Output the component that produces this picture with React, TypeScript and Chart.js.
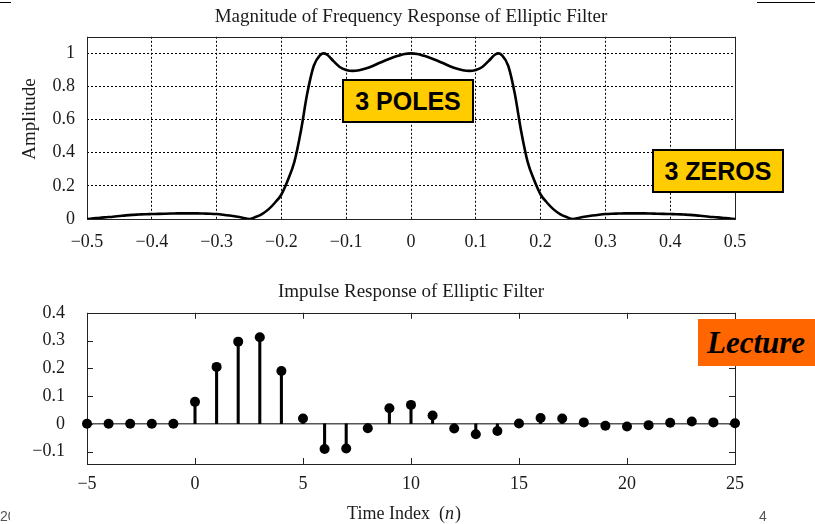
import React, { useEffect, useRef } from 'react';
import { Chart, registerables } from 'chart.js';

Chart.register(...registerables);

// ---------- data ----------
const freqAxis = [
  -0.50, -0.49, -0.48, -0.47, -0.46, -0.45, -0.44, -0.43, -0.42, -0.41,
  -0.40, -0.39, -0.38, -0.37, -0.36, -0.35, -0.34, -0.33, -0.32, -0.31,
  -0.30, -0.29, -0.28, -0.27, -0.26, -0.25, -0.24, -0.23, -0.22, -0.21,
  -0.20, -0.19, -0.18, -0.17, -0.16, -0.15, -0.14, -0.135, -0.13, -0.12, -0.11,
  -0.10, -0.09, -0.08, -0.07, -0.06, -0.05, -0.04, -0.03, -0.02, -0.01,
  0.00,
  0.01, 0.02, 0.03, 0.04, 0.05, 0.06, 0.07, 0.08, 0.09, 0.10,
  0.11, 0.12, 0.13, 0.135, 0.14, 0.15, 0.16, 0.17, 0.18, 0.19, 0.20,
  0.21, 0.22, 0.23, 0.24, 0.25, 0.26, 0.27, 0.28, 0.29, 0.30,
  0.31, 0.32, 0.33, 0.34, 0.35, 0.36, 0.37, 0.38, 0.39, 0.40,
  0.41, 0.42, 0.43, 0.44, 0.45, 0.46, 0.47, 0.48, 0.49, 0.50,
];

const magnitude = [
  0.000, 0.004, 0.008, 0.011, 0.014, 0.018, 0.022, 0.025, 0.027, 0.029,
  0.030, 0.031, 0.032, 0.033, 0.034, 0.034, 0.034, 0.034, 0.033, 0.032,
  0.030, 0.026, 0.021, 0.015, 0.008, 0.000, 0.012, 0.030, 0.058, 0.098,
  0.148, 0.235, 0.345, 0.530, 0.760, 0.925, 0.990, 1.000, 0.993, 0.955, 0.918,
  0.900, 0.894, 0.898, 0.908, 0.922, 0.940, 0.957, 0.972, 0.985, 0.996,
  1.000,
  0.996, 0.985, 0.972, 0.957, 0.940, 0.922, 0.908, 0.898, 0.894, 0.900,
  0.918, 0.955, 0.993, 1.000, 0.990, 0.925, 0.760, 0.530, 0.345, 0.235, 0.148,
  0.098, 0.058, 0.030, 0.012, 0.000, 0.008, 0.015, 0.021, 0.026, 0.030,
  0.032, 0.033, 0.034, 0.034, 0.034, 0.034, 0.033, 0.032, 0.031, 0.030,
  0.029, 0.027, 0.025, 0.022, 0.018, 0.014, 0.011, 0.008, 0.004, 0.000,
];

const timeIndex = [
  -5, -4, -3, -2, -1, 0, 1, 2, 3, 4, 5, 6, 7, 8, 9, 10,
  11, 12, 13, 14, 15, 16, 17, 18, 19, 20, 21, 22, 23, 24, 25,
];

const impulse = [
  0, 0, 0, 0, 0, 0.079, 0.205, 0.296, 0.312, 0.19, 0.019, -0.091, -0.089, -0.016, 0.056, 0.068,
  0.030, -0.017, -0.038, -0.026, 0.001, 0.021, 0.019, 0.005, -0.007, -0.010, -0.005, 0.004, 0.008, 0.005, 0.002,
];

const topTitle = 'Magnitude of Frequency Response of Elliptic Filter';
const topYTitle = 'Amplitude';
const bottomTitle = 'Impulse Response of Elliptic Filter';
const bottomXTitleMain = 'Time Index  (';
const bottomXTitleVar = 'n';
const bottomXTitleEnd = ')';

// ---------- helpers ----------
const SERIF = '"Liberation Serif", "Times New Roman", serif';
const SANS = '"Liberation Sans", Arial, sans-serif';
const INK = '#1a1a1a';

function fmt(v: number, digits: number): string {
  if (Math.abs(v) < 1e-9) return '0';
  if (Math.abs(v - Math.round(v)) < 1e-9) {
    const r = Math.round(v);
    return r < 0 ? '\u2212' + Math.abs(r) : String(r);
  }
  const s = Math.abs(v).toFixed(digits);
  return v < 0 ? '\u2212' + s : s;
}

const framePlugin = {
  id: 'frame',
  beforeDatasetsDraw(chart: any) {
    const { ctx, chartArea: a } = chart;
    ctx.save();
    ctx.strokeStyle = '#222';
    ctx.lineWidth = 1;
    ctx.setLineDash([]);
    ctx.strokeRect(Math.round(a.left) + 0.5, Math.round(a.top) + 0.5,
      Math.round(a.right - a.left), Math.round(a.bottom - a.top));
    ctx.restore();
  },
};

const innerTicksPlugin = {
  id: 'innerTicks',
  beforeDatasetsDraw(chart: any) {
    const { ctx, chartArea: a, scales } = chart;
    const len = 6;
    ctx.save();
    ctx.strokeStyle = '#222';
    ctx.lineWidth = 1;
    ctx.beginPath();
    scales.x.ticks.forEach((t: any) => {
      const px = Math.round(scales.x.getPixelForValue(t.value)) + 0.5;
      ctx.moveTo(px, a.top); ctx.lineTo(px, a.top + len);
      ctx.moveTo(px, a.bottom); ctx.lineTo(px, a.bottom - len);
    });
    scales.y.ticks.forEach((t: any) => {
      const py = Math.round(scales.y.getPixelForValue(t.value)) + 0.5;
      ctx.moveTo(a.left, py); ctx.lineTo(a.left + len, py);
      ctx.moveTo(a.right, py); ctx.lineTo(a.right - len, py);
    });
    ctx.stroke();
    ctx.restore();
  },
};

const topYTitlePlugin = {
  id: 'topYTitle',
  afterDraw(chart: any) {
    const { ctx } = chart;
    ctx.save();
    ctx.translate(30, 119);
    ctx.rotate(-Math.PI / 2);
    ctx.font = `19px ${SERIF}`;
    ctx.fillStyle = INK;
    ctx.textAlign = 'center';
    ctx.textBaseline = 'middle';
    ctx.fillText(topYTitle, 0, 0);
    ctx.restore();
  },
};

const bottomXTitlePlugin = {
  id: 'bottomXTitle',
  afterDraw(chart: any) {
    const { ctx } = chart;
    ctx.save();
    const normal = `18px ${SERIF}`;
    const ital = `italic 18px ${SERIF}`;
    ctx.font = normal;
    const w1 = ctx.measureText(bottomXTitleMain).width;
    const w3 = ctx.measureText(bottomXTitleEnd).width;
    ctx.font = ital;
    const w2 = ctx.measureText(bottomXTitleVar).width + 1;
    const total = w1 + w2 + w3;
    const cx = 404;
    const y = 254;
    let x = cx - total / 2;
    ctx.fillStyle = INK;
    ctx.textBaseline = 'middle';
    ctx.textAlign = 'left';
    ctx.font = normal;
    ctx.fillText(bottomXTitleMain, x, y);
    x += w1;
    ctx.font = ital;
    ctx.fillText(bottomXTitleVar, x, y);
    x += w2;
    ctx.font = normal;
    ctx.fillText(bottomXTitleEnd, x, y);
    ctx.restore();
  },
};

const W = 815;
const TOP_H = 255;
const BOT_TOP = 260;
const BOT_H = 264;

function TopChart() {
  const ref = useRef<HTMLCanvasElement | null>(null);
  useEffect(() => {
    if (!ref.current) return;
    const chart = new Chart(ref.current, {
      type: 'line',
      data: {
        datasets: [
          {
            data: freqAxis.map((f, i) => ({ x: f, y: magnitude[i] })),
            borderColor: '#000',
            borderWidth: 2.6,
            pointRadius: 0,
            cubicInterpolationMode: 'monotone',
            fill: false,
          },
        ],
      },
      options: {
        responsive: false,
        animation: false,
        devicePixelRatio: 1,
        layout: { padding: { left: 0, right: W - 735, top: 0, bottom: 0 } },
        plugins: {
          legend: { display: false },
          tooltip: { enabled: false },
          title: {
            display: true,
            fullSize: false,
            text: topTitle,
            color: INK,
            font: { family: SERIF, size: 19, weight: 'normal', lineHeight: 1.2 },
            padding: { top: 6, bottom: 8 },
          },
        },
        scales: {
          x: {
            type: 'linear',
            min: -0.5,
            max: 0.5,
            offset: false,
            afterFit: (s: any) => { s.height = TOP_H - 219; },
            ticks: {
              stepSize: 0.1,
              color: INK,
              font: { family: SERIF, size: 18 },
              padding: 12,
              maxRotation: 0,
              callback: (v: any) => fmt(Number(v), 1),
            },
            grid: { color: '#000', lineWidth: 1, drawTicks: false },
            border: { display: false, dash: [2, 2] },
          },
          y: {
            min: 0,
            max: 1.1,
            afterFit: (s: any) => { s.width = 87; },
            ticks: {
              stepSize: 0.2,
              includeBounds: false,
              color: INK,
              font: { family: SERIF, size: 18 },
              padding: 12,
              callback: (v: any) => fmt(Number(v), 1),
            },
            grid: { color: '#000', lineWidth: 1, drawTicks: false },
            border: { display: false, dash: [2, 2] },
          },
        },
      } as any,
      plugins: [framePlugin, topYTitlePlugin],
    });
    return () => chart.destroy();
  }, []);
  return (
    <canvas
      ref={ref}
      width={W}
      height={TOP_H}
      style={{ position: 'absolute', left: 0, top: 0, width: W, height: TOP_H }}
    />
  );
}

function BottomChart() {
  const ref = useRef<HTMLCanvasElement | null>(null);
  useEffect(() => {
    if (!ref.current) return;
    const pts = timeIndex.map((n, i) => ({ x: n, y: impulse[i] }));
    const chart = new Chart(ref.current, {
      type: 'bar',
      data: {
        datasets: [
          {
            type: 'scatter',
            data: pts,
            pointRadius: 5,
            pointBackgroundColor: '#000',
            pointBorderWidth: 0,
            showLine: false,
            clip: false,
            order: 0,
          },
          {
            type: 'bar',
            data: pts,
            backgroundColor: '#000',
            barThickness: 2.4,
            order: 1,
          },
          {
            type: 'line',
            data: [{ x: timeIndex[0], y: 0 }, { x: timeIndex[timeIndex.length - 1], y: 0 }],
            borderColor: '#555',
            borderWidth: 1.5,
            pointRadius: 0,
            order: 2,
          },
        ],
      },
      options: {
        responsive: false,
        animation: false,
        devicePixelRatio: 1,
        layout: { padding: { left: 0, right: W - 735, top: 0, bottom: 0 } },
        plugins: {
          legend: { display: false },
          tooltip: { enabled: false },
          title: {
            display: true,
            fullSize: false,
            text: bottomTitle,
            color: INK,
            font: { family: SERIF, size: 19, weight: 'normal', lineHeight: 1.2 },
            padding: { top: 21, bottom: 9 },
          },
        },
        scales: {
          x: {
            type: 'linear',
            min: -5,
            max: 25,
            offset: false,
            afterFit: (s: any) => { s.height = 60; },
            ticks: {
              stepSize: 5,
              color: INK,
              font: { family: SERIF, size: 18 },
              padding: 1,
              maxRotation: 0,
              callback: (v: any) => fmt(Number(v), 0),
            },
            grid: { display: false, offset: false },
            border: { display: false },
          },
          y: {
            min: -0.145,
            max: 0.4,
            afterFit: (s: any) => { s.width = 87; },
            ticks: {
              stepSize: 0.1,
              includeBounds: false,
              color: INK,
              font: { family: SERIF, size: 18 },
              padding: 14,
              callback: (v: any) => fmt(Number(v), 1),
            },
            grid: { display: false },
            border: { display: false },
          },
        },
      } as any,
      plugins: [framePlugin, innerTicksPlugin, bottomXTitlePlugin],
    });
    return () => chart.destroy();
  }, []);
  return (
    <canvas
      ref={ref}
      width={W}
      height={BOT_H}
      style={{ position: 'absolute', left: 0, top: BOT_TOP, width: W, height: BOT_H }}
    />
  );
}

const boxBase: React.CSSProperties = {
  position: 'absolute',
  boxSizing: 'border-box',
  display: 'flex',
  alignItems: 'center',
  justifyContent: 'center',
  color: '#000',
  whiteSpace: 'nowrap',
};

export default function App() {
  return (
    <div
      style={{
        position: 'absolute',
        left: 0,
        top: 0,
        width: W,
        height: 524,
        overflow: 'hidden',
        background: '#fff',
      }}
    >
      <TopChart />
      <BottomChart />

      <div style={{ position: 'absolute', left: 0, top: 2, width: 11, height: 1, background: '#000' }} />
      <div style={{ position: 'absolute', left: 757, top: 2, width: 58, height: 1, background: '#000' }} />

      <div
        style={{
          ...boxBase,
          left: 342, top: 79, width: 132, height: 44,
          border: '2px solid #000', background: '#FFCC00',
          font: `bold 25px ${SANS}`,
        }}
      >
        3 POLES
      </div>
      <div
        style={{
          ...boxBase,
          left: 652, top: 149, width: 132, height: 44,
          border: '2px solid #000', background: '#FFCC00',
          font: `bold 25px ${SANS}`,
        }}
      >
        3 ZEROS
      </div>
      <div
        style={{
          ...boxBase,
          justifyContent: 'flex-start',
          left: 698, top: 319, width: 130, height: 47,
          paddingLeft: 9,
          background: '#FF6600',
          font: `italic bold 31px ${SERIF}`,
        }}
      >
        Lecture
      </div>

      <div style={{ position: 'absolute', left: 0, top: 508, width: 10, overflow: 'hidden', font: `14px ${SANS}`, color: '#555', whiteSpace: 'nowrap' }}>
        20
      </div>
      <div style={{ position: 'absolute', left: 759, top: 508, font: `14px ${SANS}`, color: '#555' }}>
        4
      </div>
    </div>
  );
}
